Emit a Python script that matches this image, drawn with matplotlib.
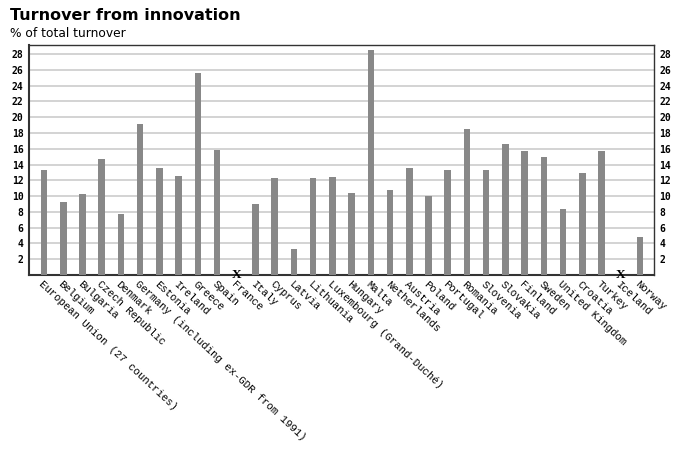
from matplotlib import pyplot as plt
import numpy as np

# Data (% of total turnover), None = not available
countries = ["European Union (27 countries)", "Belgium", "Bulgaria", "Czech Republic",
             "Denmark", "Germany (including ex-GDR from 1991)", "Estonia", "Ireland",
             "Greece", "Spain", "France", "Italy", "Cyprus", "Latvia", "Lithuania",
             "Luxembourg (Grand-Duché)", "Hungary", "Malta", "Netherlands", "Austria",
             "Poland", "Portugal", "Romania", "Slovenia", "Slovakia", "Finland",
             "Sweden", "United Kingdom", "Croatia", "Turkey", "Iceland", "Norway"]
values = [13.3, 9.2, 10.25, 14.65, 7.75, 19.1, 13.6, 12.5, 25.6, 15.9, None, 9.05,
          12.3, 3.35, 12.35, 12.45, 10.4, 28.5, 10.8, 13.55, 10.0, 13.25, 18.45,
          13.25, 16.6, 15.65, 14.95, 8.4, 12.95, 15.75, None, 4.75]
yticks = list(range(2, 30, 2))

fig = plt.figure(figsize=(6.76, 4.5), dpi=100)
ax = fig.add_axes([0.043, 0.389, 0.9245, 0.511])

x = np.arange(len(countries))
heights = [v if v is not None else 0 for v in values]
ax.bar(x, heights, width=0.34, color="#888888", zorder=3)

# missing values marked with an X on the baseline
for xi, v in zip(x, values):
    if v is None:
        ax.text(xi, 0, "X", ha="center", va="center", fontsize=9.5,
                fontweight="bold", family="Liberation Serif", zorder=4)

ax.set_xlim(-0.78, len(countries) - 0.27)
ax.set_ylim(0, 29.15)
ax.set_yticks(yticks)
ax.yaxis.grid(True, color="#cccccc", linewidth=1.2, zorder=0)
ax.tick_params(axis="y", length=0, labelsize=7, pad=4,
               left=True, right=True, labelleft=True, labelright=True)
for lab in ax.get_yticklabels():
    lab.set_fontweight("bold")
    lab.set_family("DejaVu Sans Mono")

ax.set_xticks(x)
ax.set_xticklabels(countries, rotation=-43, ha="left", va="top",
                   rotation_mode="anchor", fontsize=7.7, family="Liberation Mono")
ax.tick_params(axis="x", length=0, pad=3)

for side in ["left", "bottom"]:
    ax.spines[side].set_linewidth(1.5)
    ax.spines[side].set_color("#333333")
for side in ["top", "right"]:
    ax.spines[side].set_linewidth(1.0)
    ax.spines[side].set_color("#333333")

fig.text(0.015, 0.965, "Turnover from innovation", fontsize=11.5, fontweight="bold",
         va="center", ha="left")
fig.text(0.015, 0.925, "% of total turnover", fontsize=8.8, va="center", ha="left")

fig.savefig("out.png", dpi=100)
